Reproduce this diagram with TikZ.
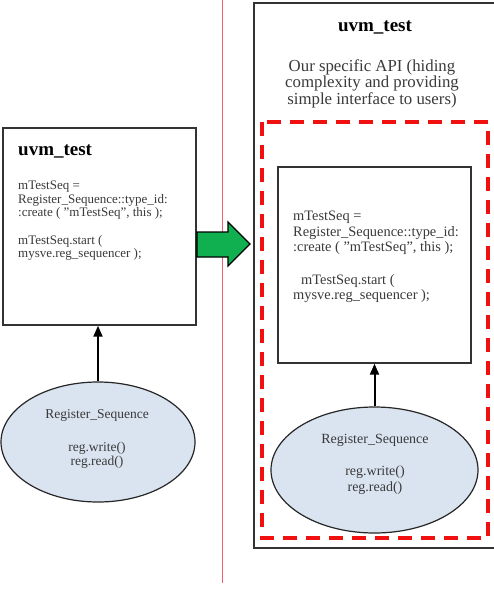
\documentclass[tikz,border=0pt]{standalone}
\usepackage{fontspec}
\setmainfont{Liberation Serif}
\usetikzlibrary{shapes.geometric,arrows.meta}
\definecolor{txtgray}{HTML}{3A3A3A}
\definecolor{ellfill}{HTML}{DAE3F0}
\definecolor{arrgreen}{HTML}{10B050}
\definecolor{dashred}{HTML}{F01010}
\definecolor{linered}{HTML}{F06070}
\newcommand{\sq}{\symbol{34}}
\tikzset{
  box/.style={draw=black!80,line width=1.4pt,fill=white,inner sep=0pt},
  ell/.style={ellipse,draw=black!85,line width=1.2pt,fill=ellfill,inner sep=0pt},
  code/.style={inner sep=0pt,align=left,text=txtgray,anchor=north west},
  etext/.style={inner sep=0pt,align=center,text=txtgray,anchor=north},
  title/.style={inner sep=0pt,font=\fontsize{19}{22}\selectfont\bfseries},
  up/.style={line width=2pt,-{Triangle[length=11pt,width=9pt]}},
}
\begin{document}
\begin{tikzpicture}[x=1pt,y=-1pt]
\useasboundingbox (0,0) rectangle (493,589);
% divider
\draw[linered,line width=1pt] (222,0) -- (222,583);
% left side
\node[box,minimum width=193pt,minimum height=197pt] (lbox) at (99.5,226.5) {};
\node[title,anchor=base west] (ltitle) at (18,155) {uvm\_test};
\node[code,font=\fontsize{13}{13.5}\selectfont] (lcode) at (18,181)
  {mTestSeq =\\Register\_Sequence::type\_id:\\:create ( \sq mTestSeq\sq, this );\\[14pt]mTestSeq.start (\\mysve.reg\_sequencer );};
\node[ell,minimum width=194pt,minimum height=120pt] (lell) at (98,442) {};
\node[etext,font=\fontsize{13.5}{14}\selectfont] (lelltext) at (97,409)
  {Register\_Sequence\\[19pt]reg.write()\\reg.read()};
\draw[up] (lell.north) -- (lbox.south -| lell.north);
% green arrow
\draw[black,line width=1.3pt,fill=arrgreen,line join=miter]
  (197,232) -- (228,232) -- (228,222) -- (250,244) -- (228,266) -- (228,257) -- (197,257) -- cycle;
% right side
\draw[black!80,line width=1.4pt] (495,3) -- (254,3) -- (254,548) -- (495,548);
\node[title,anchor=base] (rtitle) at (375,31) {uvm\_test};
\node[inner sep=0pt,align=center,text=txtgray,anchor=north,font=\fontsize{16.8}{16.5}\selectfont] (api) at (372,59)
  {Our specific API (hiding\\complexity and providing\\simple interface to users)};
\draw[dashred,line width=3.8pt,dash pattern=on 14pt off 9pt] (262,122) rectangle (488,538);
\node[box,minimum width=193pt,minimum height=196pt] (rbox) at (374.5,265) {};
\node[code,font=\fontsize{14.4}{15.5}\selectfont] (rcode) at (293,211)
  {mTestSeq =\\Register\_Sequence::type\_id:\\:create ( \sq mTestSeq\sq, this );\\[17pt]\hspace*{8pt}mTestSeq.start (\\mysve.reg\_sequencer );};
\node[ell,minimum width=207pt,minimum height=126pt] (rell) at (374.5,470) {};
\node[etext,font=\fontsize{14}{16}\selectfont] (relltext) at (375,434)
  {Register\_Sequence\\[16pt]reg.write()\\reg.read()};
\draw[up] (rell.north) -- (rbox.south -| rell.north);
\end{tikzpicture}
\end{document}
